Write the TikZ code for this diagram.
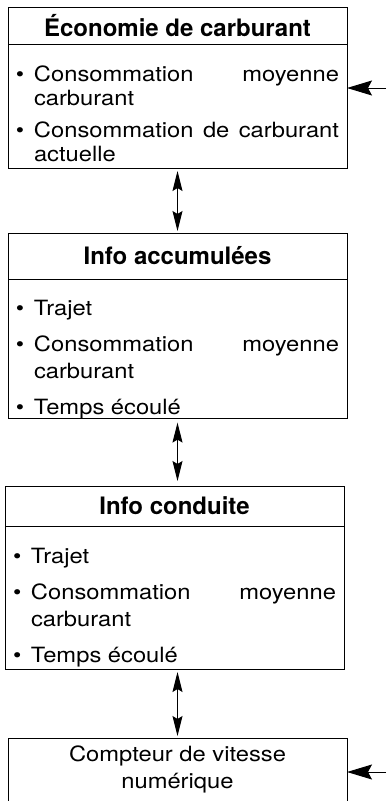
\documentclass[tikz,border=0pt]{standalone}
\usepackage{fontspec}
\setmainfont{TeX Gyre Heros}
\newfontfamily\corps[FakeStretch=1.13]{TeX Gyre Heros}
\usetikzlibrary{arrows.meta,positioning}

\newcommand{\reglages}{\hyphenpenalty=10000 \exhyphenpenalty=10000 \parskip=9pt\relax}
\newcommand{\puce}{\par\hangindent=18pt\hangafter=1\noindent\makebox[18pt][l]{\textbullet}}

\begin{document}
\begin{tikzpicture}[x=1pt, y=-1pt, line width=1pt,
	titre/.style={draw, minimum width=339pt, inner sep=0pt, outer sep=0pt,
		font=\fontsize{24}{28}\selectfont\bfseries},
	liste/.style={draw, text width=323pt, inner xsep=8pt, inner ysep=0pt, outer sep=0pt,
		align=justify, font=\corps\fontsize{21}{27}\selectfont},
	fleche/.style={{Stealth[length=20pt,width=10pt,inset=3pt]}-{Stealth[length=20pt,width=10pt,inset=3pt]}},
	entree/.style={-{Stealth[length=25pt,width=15pt,inset=4pt]}}]

\useasboundingbox (0,0) rectangle (386,801);
\clip (0,0) rectangle (386,801);

% Economie de carburant
\node[titre, anchor=north, minimum height=37pt] (eco) at (177.5,7) {Économie de carburant};
\node[liste, minimum height=124pt, below=0pt of eco, font=\corps\fontsize{21}{24}\selectfont] (eco-l)
	{\reglages\parskip=8pt
	 \puce Consommation moyenne carburant
	 \puce Consommation de carburant actuelle\par};

% Info accumulees
\node[titre, anchor=north, minimum height=46pt] (accu) at (177.5,233) {Info accumulées};
\node[liste, minimum height=139pt, below=0pt of accu] (accu-l)
	{\reglages
	 \puce Trajet
	 \puce Consommation moyenne carburant
	 \puce Temps écoulé\par};

% Info conduite
\node[titre, anchor=north, minimum height=40pt] (cond) at (174.5,486) {Info conduite};
\node[liste, minimum height=143pt, below=0pt of cond] (cond-l)
	{\reglages
	 \puce Trajet
	 \puce Consommation moyenne carburant
	 \puce Temps écoulé\par};

% Compteur
\node[draw, anchor=north, minimum width=339pt, inner ysep=8pt, outer sep=0pt, text depth=60pt,
	align=center, font=\corps\fontsize{21}{27}\selectfont] (cpt) at (177.5,738)
	{Compteur de vitesse\\numérique};

% Fleches
\draw[fleche, shorten <=3pt, shorten >=2pt] (eco-l.south) -- (accu.north);
\draw[fleche, shorten <=4pt, shorten >=5pt] (accu-l.south) -- (accu-l.south |- cond.north);
\draw[fleche, shorten <=3pt, shorten >=2pt] (accu-l.south |- cond-l.south) -- (cpt.north -| accu-l.south);

\coordinate (in1) at (386,88);
\coordinate (in2) at (386,772);
\draw[entree] (in1) -- (in1 -| eco-l.east);
\draw[entree] (in2) -- (in2 -| cpt.east);
\end{tikzpicture}
\end{document}
